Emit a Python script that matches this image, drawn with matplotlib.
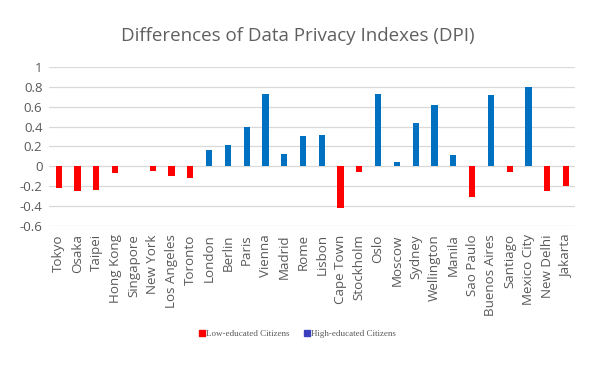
import matplotlib
matplotlib.use("Agg")
from matplotlib import pyplot as plt
from matplotlib.patches import Patch
import numpy as np

cities = ["Tokyo", "Osaka", "Taipei", "Hong Kong", "Singapore", "New York",
          "Los Angeles", "Toronto", "London", "Berlin", "Paris", "Vienna",
          "Madrid", "Rome", "Lisbon", "Cape Town", "Stockholm", "Oslo",
          "Moscow", "Sydney", "Wellington", "Manila", "Sao Paulo",
          "Buenos Aires", "Santiago", "Mexico City", "New Delhi", "Jakarta"]
dpi_diff = [-0.22, -0.25, -0.24, -0.07, 0.0, -0.05,
            -0.10, -0.12, 0.165, 0.215, 0.40, 0.73,
            0.125, 0.305, 0.315, -0.42, -0.057, 0.73,
            0.045, 0.44, 0.62, 0.115, -0.31,
            0.72, -0.057, 0.795, -0.25, -0.20]
yticks = [-0.6, -0.4, -0.2, 0, 0.2, 0.4, 0.6, 0.8, 1]
ytick_labels = ["-0.6", "-0.4", "-0.2", "0", "0.2", "0.4", "0.6", "0.8", "1"]

plt.rcParams['font.family'] = ['Open Sans', 'DejaVu Sans']
grey = "#595959"
red = "#FF0000"
blue = "#0070C0"

fig = plt.figure(figsize=(5.95, 3.76), dpi=100)
ax = fig.add_axes([0.083, 0.399, 0.884, 0.423])

x = np.arange(len(cities))
colors = [red if v < 0 else blue for v in dpi_diff]
ax.bar(x, dpi_diff, width=0.33, color=colors, zorder=3)

ax.set_xlim(-0.5, len(cities) - 0.5)
ax.set_ylim(-0.6, 1.0)
ax.set_yticks(yticks)
ax.set_yticklabels(ytick_labels, fontsize=9.5, color=grey)
ax.set_xticks(x)
ax.set_xticklabels(cities, rotation=90, fontsize=9.6, color=grey)
ax.tick_params(axis="x", length=0, pad=6)
ax.tick_params(axis="y", length=0, pad=5)
ax.grid(axis="y", color="#D9D9D9", linewidth=0.9, zorder=0)
for s in ax.spines.values():
    s.set_visible(False)

fig.text(0.5, 0.905, "Differences of Data Privacy Indexes (DPI)",
         ha="center", va="center", fontsize=13.5, color="#606060")

handles = [Patch(color=red, label="Low-educated Citizens"),
           Patch(color="#3A3FC0", label="High-educated Citizens")]
fig.legend(handles=handles, loc="center", bbox_to_anchor=(0.5, 0.112), ncol=2,
           frameon=False, handlelength=0.7, handleheight=0.7, handletextpad=0.1,
           columnspacing=1.6, prop={"family": "Liberation Serif", "size": 6.5},
           labelcolor=grey)

fig.savefig("out.png", dpi=100)
